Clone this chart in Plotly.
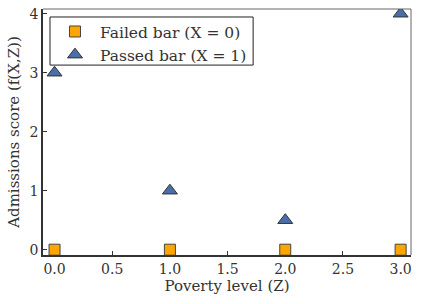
import plotly.graph_objects as go

poverty = [0, 1, 2, 3]
failed_scores = [0, 0, 0, 0]
passed_scores = [3, 1, 0.5, 4]
x_ticks = [0, 0.5, 1.0, 1.5, 2.0, 2.5, 3.0]
x_tick_labels = ["0.0", "0.5", "1.0", "1.5", "2.0", "2.5", "3.0"]
y_ticks = [0, 1, 2, 3, 4]

FONT = "DejaVu Serif"
TXT = "#333333"

fig = go.Figure()
fig.add_trace(go.Scatter(
    x=poverty, y=failed_scores, mode="markers", name="Failed bar (X = 0)",
    marker=dict(symbol="square", size=11, color="#FFA500",
                line=dict(color="#444444", width=1)),
))
fig.add_trace(go.Scatter(
    x=poverty, y=passed_scores, mode="markers", name="Passed bar (X = 1)",
    marker=dict(symbol="triangle-up", size=13, color="#4A6EA8",
                line=dict(color="#333333", width=1)),
))

axis_common = dict(
    showgrid=False, zeroline=False, showline=True, linecolor="#333333", linewidth=1.5,
    ticks="inside", ticklen=4, tickcolor="#333333", tickwidth=1,
    tickfont=dict(family=FONT, size=14, color=TXT),
    ticklabeloverflow="allow", layer="below traces",
)
fig.update_xaxes(range=[-0.1, 3.09], tickvals=x_ticks, ticktext=x_tick_labels,
                 title=dict(text="Poverty level (Z)", font=dict(family=FONT, size=15, color=TXT), standoff=4),
                 **axis_common)
fig.update_yaxes(range=[-0.09, 4.08], tickvals=y_ticks,
                 title=dict(text="Admissions score (f(X,Z))", font=dict(family=FONT, size=15, color=TXT), standoff=6),
                 **axis_common)

# top and right frame lines
fig.add_shape(type="line", xref="paper", yref="paper", x0=0, x1=1, y0=1, y1=1,
              line=dict(color="#666666", width=1), layer="below")
fig.add_shape(type="line", xref="paper", yref="paper", x0=1, x1=1, y0=0, y1=1,
              line=dict(color="#666666", width=1), layer="below")
# legend frame (compact box like the reference)
fig.add_shape(type="rect", xref="paper", yref="paper", x0=0.019, x1=0.571, y0=0.772, y1=0.9675,
              line=dict(color="#222222", width=1), fillcolor="white", layer="above")

fig.update_layout(
    width=421, height=304,
    margin=dict(l=43, r=10, t=9, b=49, autoexpand=False),
    plot_bgcolor="white", paper_bgcolor="white",
    font=dict(family=FONT, color=TXT),
    legend=dict(x=0.019, y=0.976, xanchor="left", yanchor="top",
                borderwidth=0, bgcolor="rgba(0,0,0,0)",
                font=dict(family=FONT, size=15.5, color=TXT),
                itemwidth=40, tracegroupgap=0),
    showlegend=True,
)

fig.write_html("out.html", config={"displayModeBar": False},
               post_script="document.body.style.margin='0';")
